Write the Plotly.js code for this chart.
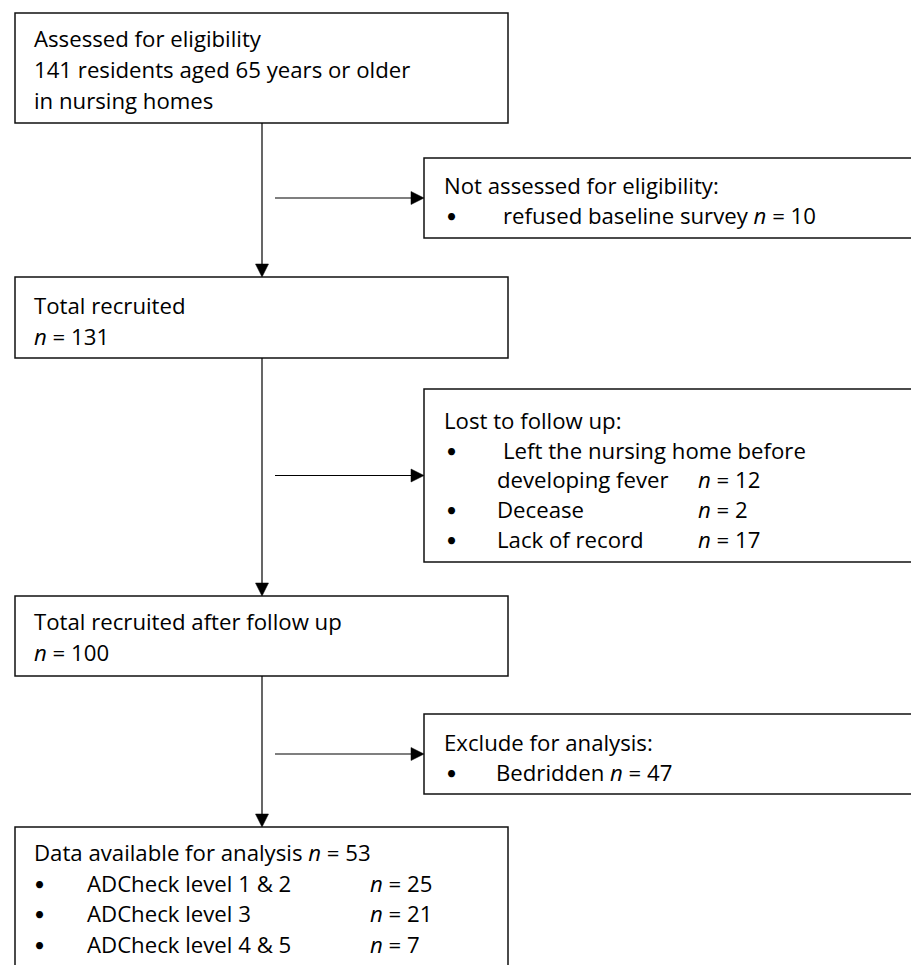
<!DOCTYPE html>
<html>
<head>
<meta charset="utf-8">
<script src="https://cdn.plot.ly/plotly-3.0.1.min.js"></script>
<style>html,body{margin:0;padding:0;background:#fff;}#chart{width:911px;height:965px;}</style>
</head>
<body>
<div id="chart"></div>
<script>
// ---- data ----
const stageLabels = ["Assessed for eligibility", "Total recruited", "Total recruited after follow up", "Data available for analysis"];
const stageCounts = [141, 131, 100, 53];
const eligibilityLines = ["residents aged 65 years or older", "in nursing homes"];
const exclusionTitles = ["Not assessed for eligibility:", "Lost to follow up:", "Exclude for analysis:"];
const refusedReasons = ["refused baseline survey"];
const refusedCounts = [10];
const lostReasons = ["Left the nursing home before", "developing fever", "Decease", "Lack of record"];
const lostCounts = [12, 2, 17];
const excludeReasons = ["Bedridden"];
const excludeCounts = [47];
const levelLabels = ["ADCheck level 1 & 2", "ADCheck level 3", "ADCheck level 4 & 5"];
const levelCounts = [25, 21, 7];

// ---- geometry (pixel space) ----
const G = {
  mainL: 15, mainR: 508, sideL: 424, sideR: 920, spine: 262, arrowX0: 275,
  main: [[13, 123], [277, 358], [596, 676], [827, 990]],
  side: [[158, 238], [389, 562], [714, 794]],
  headLen: 13, headHalf: 6.5,
  textX: 32, sideTextX: 442, bulletX: 444, font: 22.2
};

const shapes = [];
const ann = [];
const black = '#000';
function rect(x0, x1, y0, y1) {
  shapes.push({type: 'rect', xref: 'x', yref: 'y', x0, x1, y0, y1, line: {color: '#111', width: 1.5}, fillcolor: 'rgba(0,0,0,0)'});
}
function line(x0, y0, x1, y1) {
  shapes.push({type: 'line', xref: 'x', yref: 'y', x0, y0, x1, y1, line: {color: black, width: 1.2}});
}
function tri(path) {
  shapes.push({type: 'path', xref: 'x', yref: 'y', path, fillcolor: black, line: {color: black, width: 0.5}});
}
function txt(x, y, text, anchor, size, family) {
  ann.push({xref: 'x', yref: 'y', x, y, text, showarrow: false, xanchor: anchor || 'left', yanchor: 'middle',
    font: {family: family || '"Open Sans", Carlito, Calibri, sans-serif', size: size || G.font, color: '#000'}});
}
const nEq = v => '<i>n</i> = ' + v;
const bullet = (x, y) => txt(x, y, '•', 'left', 19, 'Lato, sans-serif');

// boxes
G.main.forEach(b => rect(G.mainL, G.mainR, b[0], b[1]));
G.side.forEach(b => rect(G.sideL, G.sideR, b[0], b[1]));

// vertical arrows between main boxes + horizontal arrows to side boxes
for (let i = 0; i < G.main.length - 1; i++) {
  const yTop = G.main[i][1], yBot = G.main[i + 1][0];
  line(G.spine, yTop, G.spine, yBot - G.headLen);
  tri(`M ${G.spine - G.headHalf} ${yBot - G.headLen} L ${G.spine + G.headHalf} ${yBot - G.headLen} L ${G.spine} ${yBot} Z`);
  const s = G.side[i];
  const yMid = (s[0] + s[1]) / 2;
  line(G.arrowX0, yMid, G.sideL - G.headLen, yMid);
  tri(`M ${G.sideL - G.headLen} ${yMid - G.headHalf} L ${G.sideL - G.headLen} ${yMid + G.headHalf} L ${G.sideL} ${yMid} Z`);
}

// box 1 text
txt(G.textX, 38, stageLabels[0]);
txt(G.textX, 69, stageCounts[0] + ' ' + eligibilityLines[0]);
txt(G.textX, 100, eligibilityLines[1]);
// box 2
txt(G.textX, 305, stageLabels[1]);
txt(G.textX, 336, nEq(stageCounts[1]));
// box 3
txt(G.textX, 621, stageLabels[2]);
txt(G.textX, 652, nEq(stageCounts[2]));
// box 4
txt(G.textX, 852, stageLabels[3] + ' ' + nEq(stageCounts[3]));
levelLabels.forEach((l, i) => {
  const y = 883 + i * 30.5;
  bullet(32, y);
  txt(85, y, l);
  txt(368, y, nEq(levelCounts[i]));
});

// side 1
txt(G.sideTextX, 185, exclusionTitles[0]);
bullet(G.bulletX, 215);
txt(501, 215, refusedReasons[0] + ' ' + nEq(refusedCounts[0]));
// side 2
txt(G.sideTextX, 420, exclusionTitles[1]);
bullet(G.bulletX, 450);
txt(501, 450, lostReasons[0]);
txt(495, 479, lostReasons[1]);
txt(696, 479, nEq(lostCounts[0]));
bullet(G.bulletX, 509);
txt(495, 509, lostReasons[2]);
txt(696, 509, nEq(lostCounts[1]));
bullet(G.bulletX, 539);
txt(495, 539, lostReasons[3]);
txt(696, 539, nEq(lostCounts[2]));
// side 3
txt(G.sideTextX, 742, exclusionTitles[2]);
bullet(G.bulletX, 772);
txt(494, 772, excludeReasons[0] + ' ' + nEq(excludeCounts[0]));

const layout = {
  width: 911, height: 965,
  margin: {l: 0, r: 0, t: 0, b: 0},
  paper_bgcolor: '#fff', plot_bgcolor: '#fff',
  showlegend: false,
  xaxis: {range: [0, 911], visible: false, fixedrange: true},
  yaxis: {range: [965, 0], visible: false, fixedrange: true},
  shapes, annotations: ann
};
Plotly.newPlot('chart', [{x: [], y: [], type: 'scatter', mode: 'markers', hoverinfo: 'skip'}], layout, {staticPlot: true, displayModeBar: false});
</script>
</body>
</html>
